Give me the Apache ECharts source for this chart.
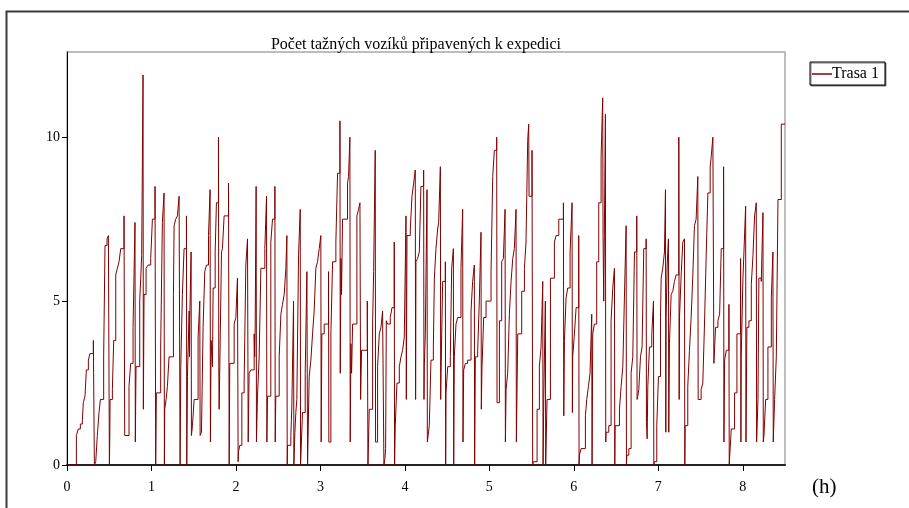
<!DOCTYPE html>
<html>
<head>
<meta charset="utf-8">
<script src="https://cdn.jsdelivr.net/npm/echarts@6/dist/echarts.min.js"></script>
<style>html,body{margin:0;padding:0;background:#fff;}#c{width:909px;height:508px;}</style>
</head>
<body>
<div id="c"></div>
<script>
const chartTitle = 'Počet tažných vozíků připavených k expedici';
const seriesName = 'Trasa 1';
const xTicks = [0, 1, 2, 3, 4, 5, 6, 7, 8];
const yTicks = [0, 5, 10];

const stepTimes = [
0,0.111,0.134,0.158,0.182,0.193,0.213,0.229,0.253,0.272,0.312,0.324,0.340,0.359,0.379,0.395,0.434,0.450,0.474,0.490,0.502,0.506,0.510,0.537,0.553,0.577,0.596,0.616,0.636,0.675,0.683,
0.734,0.754,0.782,0.805,0.809,0.817,0.861,0.873,0.884,0.900,0.904,0.912,0.936,0.959,0.991,1.011,1.042,1.050,1.058,1.109,1.129,1.149,1.153,1.157,1.173,1.189,1.208,1.260,1.268,1.287,1.307,1.327,1.339,1.347,1.366,1.386,1.414,1.418,1.426,
1.446,1.450,1.454,1.469,1.473,1.485,1.505,1.552,1.572,1.576,1.592,1.611,1.631,1.651,1.675,1.694,1.698,1.706,1.722,1.730,1.754,1.769,1.793,1.797,1.801,1.809,1.829,1.840,1.860,1.912,1.920,1.927,1.979,1.999,2.018,2.026,2.030,2.046,2.070,2.097,2.117,2.137,2.145,2.156,2.176,
2.216,2.222,2.228,2.239,2.243,2.255,2.275,2.295,2.342,2.362,2.366,2.374,2.413,2.433,2.461,2.465,2.472,2.512,2.532,2.551,2.571,2.591,2.603,2.607,2.611,2.650,2.662,2.682,2.686,2.698,2.709,2.721,2.741,2.761,2.765,2.788,2.820,2.840,2.848,2.867,2.887,2.907,2.926,2.946,2.966,2.986,3.005,3.009,
3.017,3.045,3.096,3.100,3.124,3.144,3.183,3.203,3.231,3.235,3.243,3.250,3.262,3.321,3.333,3.349,3.353,3.361,3.369,3.381,3.432,3.452,3.468,3.476,3.487,3.555,3.563,3.578,3.618,3.630,3.649,3.653,3.677,3.697,3.717,3.736,3.752,3.764,3.772,
3.780,3.795,3.827,3.847,3.874,3.878,3.886,3.906,3.934,3.954,3.973,3.993,4.013,4.017,4.025,4.064,4.084,4.104,4.123,4.127,4.131,4.151,4.171,4.190,4.222,4.226,4.230,4.242,4.262,4.266,4.289,4.309,4.337,4.349,4.368,4.388,4.400,4.420,4.424,4.428,4.447,4.479,4.483,4.487,4.507,4.538,4.554,4.574,4.578,
4.585,4.605,4.625,4.664,4.684,4.688,4.696,4.716,4.743,4.783,4.802,4.822,4.826,4.834,4.862,4.881,4.901,4.905,4.913,4.933,4.961,5.020,5.040,5.059,5.087,5.091,5.119,5.146,5.166,5.186,5.190,5.198,5.217,5.237,5.257,5.277,5.296,5.316,5.320,
5.336,5.383,5.415,5.434,5.454,5.466,5.470,5.505,5.513,5.521,5.565,5.592,5.612,5.632,5.636,5.644,5.663,5.667,5.683,5.723,5.770,5.790,5.822,5.877,5.881,5.889,5.908,5.928,5.956,5.979,5.983,5.987,6.007,6.027,6.058,6.062,6.066,6.086,
6.137,6.153,6.173,6.192,6.212,6.216,6.224,6.244,6.271,6.295,6.323,6.342,6.346,6.354,6.362,6.374,6.378,6.382,6.414,6.441,6.461,6.481,6.485,6.489,6.540,6.560,6.580,6.599,6.619,6.623,6.627,6.651,6.678,6.698,6.718,6.745,6.749,6.757,6.769,6.789,6.808,6.828,6.856,6.860,
6.868,6.876,6.895,6.923,6.943,6.947,6.955,6.982,7.002,7.026,7.034,7.053,7.073,7.085,7.089,7.093,7.105,7.120,7.124,7.132,7.152,7.172,7.191,7.211,7.243,7.247,7.251,7.271,7.290,7.310,7.314,7.318,7.349,7.369,7.389,7.409,7.428,7.448,7.468,7.472,7.507,7.527,7.547,7.567,7.587,7.614,7.626,7.646,
7.658,7.678,7.706,7.726,7.745,7.773,7.777,7.785,7.805,7.836,7.840,7.844,7.864,7.903,7.931,7.974,7.978,7.982,8.002,8.014,8.034,8.038,8.049,8.073,8.101,8.121,8.140,8.160,8.164,8.180,8.191,8.219,8.239,8.243,8.251,8.271,8.298,8.338,8.357,8.361,8.377,8.397,8.417,8.456,8.5
];
const stepValues = [
0,0.9,1.1,1.25,1.35,1.9,2.1,2.9,3.2,3.4,3.8,0,0.1,0.9,1.6,2.0,3.3,6.7,6.9,7.0,0,0.7,2.0,2.3,3.8,5.8,6.0,6.2,6.6,7.6,0.9,
2.4,3.1,4.2,7.4,0.7,3.0,5.0,5.7,6.4,11.9,1.7,5.2,6.0,6.1,6.3,7.5,8.5,0,2.2,3.6,7.4,8.3,0,1.7,2.0,2.4,3.3,5.2,7.3,7.5,7.6,8.2,0,3.0,5.2,6.6,7.6,0,2.7,
4.7,3.3,4.5,6.5,0.9,1.2,2.0,3.9,5.0,0.9,1.0,4.2,5.9,6.1,7.0,8.4,0.7,3.8,3.0,5.4,6.5,8.0,10.0,3.0,1.7,3.0,6.5,6.6,7.6,8.6,0,3.1,4.3,4.5,5.7,0.1,0.4,0.6,2.2,2.5,6.1,6.9,0.7,2.8,2.9,
4.0,3.3,4.3,8.5,0.7,2.1,3.3,6.0,6.6,8.2,0.7,2.1,6.8,7.5,8.5,0.7,2.1,3.3,4.6,4.9,5.2,6.0,7.0,0,0.6,0.9,1.8,5.0,0,1.0,1.6,2.0,6.4,7.8,0,1.6,2.8,5.9,0,2.7,3.2,4.0,4.7,6.0,6.2,6.6,7.0,0.7,
4.0,4.3,5.9,0.7,4.0,6.2,6.8,8.9,10.5,2.8,6.3,5.2,7.5,8.6,8.8,10.0,0.7,3.7,2.8,4.3,7.6,7.8,8.0,2.0,3.5,5.0,0,1.7,4.3,5.9,9.6,0.7,3.0,4.0,4.2,4.7,0,0.2,0.5,
4.4,4.3,4.5,4.8,6.8,0,1.2,2.5,3.0,3.3,3.5,3.9,7.6,2.0,7.0,7.2,8.2,8.6,9.0,2.0,6.2,6.3,6.5,8.5,9.0,2.0,3.0,4.0,8.4,0.7,1.2,3.2,3.6,5.7,6.6,7.2,7.4,9.1,2.0,2.8,5.6,6.2,0,2.2,3.0,3.3,6.0,6.6,0,
3.3,4.3,4.5,6.0,7.8,0.7,2.9,3.1,3.2,4.7,5.6,6.1,0,3.3,3.5,5.0,7.1,1.7,3.0,4.5,5.0,5.9,8.8,9.6,10.0,1.9,4.4,6.2,6.3,7.8,0.7,2.3,2.8,4.6,5.6,6.3,6.6,7.8,0.7,
4.0,5.3,6.0,6.8,9.9,10.4,8.2,9.6,0,0.1,1.7,3.0,3.6,5.6,0,2.0,5.0,0,2.0,5.7,6.8,7.0,7.5,8.0,1.5,3.8,5.1,5.4,6.5,8.0,1.6,3.3,4.0,4.8,7.0,0,0.3,0.5,
1.5,2.0,2.4,2.8,4.6,0,4.0,4.3,6.2,8.0,9.4,11.2,7.0,5.0,7.2,10.7,0.7,1.0,1.2,4.4,5.4,6.0,0,1.2,1.7,2.4,3.0,5.1,7.3,0,0.3,0.5,2.8,3.3,6.5,7.6,2.0,2.1,2.3,3.3,3.6,6.6,6.9,1.3,
0.8,2.4,3.6,4.0,5.0,0,0.1,1.2,2.7,4.5,5.7,6.0,6.5,8.4,1.0,4.5,6.1,6.9,1.0,3.7,5.2,5.3,5.6,5.8,10.0,2.0,4.5,5.8,6.8,6.9,0,1.2,2.4,3.5,4.5,5.8,7.3,7.5,8.8,2.0,2.3,2.5,4.3,6.4,8.3,9.1,9.4,10.0,
3.1,4.2,4.4,4.6,6.6,9.1,0.7,3.2,3.5,4.9,0,0.2,1.1,2.2,4.0,6.3,0.7,3.3,5.7,6.5,7.9,0.7,4.2,4.4,5.5,6.4,7.6,8.0,0.7,2.0,5.7,5.6,7.7,0.7,0.9,2.0,3.6,5.1,6.5,0.7,2.0,3.3,8.1,10.4,10.4
];

const seriesData = stepTimes.map((t, i) => [t, stepValues[i]]);
const serif = '"Liberation Serif", "DejaVu Serif", serif';

const chart = echarts.init(document.getElementById('c'), null, {renderer: 'canvas'});
chart.setOption({
  animation: false,
  backgroundColor: '#fff',
  title: {
    text: chartTitle,
    left: 411, top: 32, textAlign: 'center',
    textStyle: {fontFamily: serif, fontSize: 16, fontWeight: 'normal', color: '#000'}
  },
  legend: {
    data: [seriesName],
    left: 810, top: 62,
    orient: 'vertical',
    borderColor: '#000', borderWidth: 1, padding: [4, 6, 3, 2],
    icon: 'rect', itemWidth: 20, itemHeight: 1.5, itemGap: 0,
    shadowColor: 'rgba(0,0,0,0.5)', shadowOffsetX: 1, shadowOffsetY: 1,
    backgroundColor: '#fff',
    textStyle: {fontFamily: serif, fontSize: 16, color: '#000', width: 56, padding: [0, 0, 0, -5]}
  },
  grid: {
    left: 67, right: 124, top: 52, bottom: 43,
    show: true, borderColor: '#a8a8a8', borderWidth: 1.5, backgroundColor: '#fff'
  },
  xAxis: {
    type: 'value', min: 0, max: 8.5,
    axisLine: {show: true, onZero: false, lineStyle: {color: '#222', width: 2}},
    axisTick: {show: true, length: 6, customValues: xTicks, lineStyle: {color: '#000'}},
    axisLabel: {customValues: xTicks, fontFamily: serif, fontSize: 14, color: '#000', margin: 15},
    splitLine: {show: false}
  },
  yAxis: {
    type: 'value', min: 0, max: 12.6,
    axisLine: {show: true, lineStyle: {color: '#000', width: 1}},
    axisTick: {show: true, length: 5, customValues: yTicks, lineStyle: {color: '#000'}},
    axisLabel: {customValues: yTicks, fontFamily: serif, fontSize: 14, color: '#000', margin: 7},
    splitLine: {show: false}
  },
  series: [{
    name: seriesName,
    type: 'line',
    step: 'end',
    showSymbol: false,
    symbol: 'none',
    data: seriesData,
    lineStyle: {color: '#800000', width: 1},
    itemStyle: {color: '#800000'},
    z: 3
  }],
  graphic: [
    {type: 'rect', left: 4, top: 9, shape: {width: 920, height: 520},
     style: {fill: null, stroke: '#3a3a3a', lineWidth: 2}, silent: true, z: 100},
    {type: 'text', left: 812, top: 477,
     style: {text: '(h)', fontFamily: serif, fontSize: 21, fill: '#000'}, z: 100}
  ]
});
</script>
</body>
</html>
